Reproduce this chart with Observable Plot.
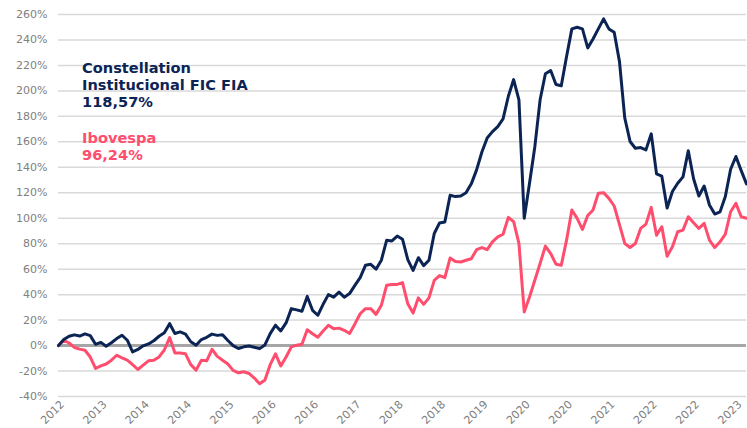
<!DOCTYPE html>
<html>
<head>
<meta charset="utf-8">
<script src="https://cdn.jsdelivr.net/npm/d3@7"></script>
<script src="https://cdn.jsdelivr.net/npm/@observablehq/plot@0.6"></script>
<style>
  html, body { margin: 0; padding: 0; background: #ffffff; }
</style>
</head>
<body>
<div id="chart"></div>
<script>
// Cumulative return (%), monthly points
const constellation = [
  0, 4.7, 7.3, 8.4, 7.5, 9.2, 7.8, 1, 2.5, -0.5,
  2.2, 5.5, 8.1, 4.2, -5, -3, -0.2, 1.3, 3.8, 7.3,
  10, 17.2, 9.5, 10.8, 9, 3, 0.3, 4.7, 6.5, 9,
  8, 8.5, 4, 0, -2.3, -1, -0.3, -1.3, -2.4, 0.5,
  9.4, 16, 11.5, 17.8, 29, 28, 27, 38.6, 27.7, 23.8,
  32.4, 40, 38, 42, 38, 40.8, 47.3, 53.3, 63, 63.8,
  60, 67, 82.7, 82.2, 86, 83.5, 67.5, 59, 69, 62.8,
  67, 88, 96.3, 97, 118, 117, 117.5, 120, 127, 138,
  152, 163, 168, 172, 178, 195.8, 208.9, 193, 100, 127.5,
  156, 193, 213.5, 216, 205, 204, 227, 248.7, 250, 248.7,
  233.8, 240.8, 248.7, 256.6, 248.7, 246, 223, 178.7, 160.3, 155,
  155.5, 153.7, 166.3, 134.8, 133, 108, 121, 127.5, 132.5, 153,
  131, 117.5, 125.3, 110.4, 103.3, 105, 117, 138.5, 148.5, 137.4,
  127
];
const ibovespa = [
  0, 4.2, 2, -1.5, -2.8, -3.7, -9, -18, -16, -14.5,
  -11.5, -7.6, -9.7, -11.5, -15, -18.8, -15.4, -12, -11.5, -8.9,
  -3.5, 6.3, -5.8, -5.8, -6.5, -15, -19.3, -11.5, -12, -2.9,
  -8.5, -11.5, -14.5, -19.5, -21.4, -20.6, -21.9, -25.5, -30, -27,
  -15, -6.5, -16, -9, -1, 0.3, 1, 12.4, 9.3, 6.6,
  11.4, 15.9, 13.2, 13.7, 12, 9.5, 17, 25, 29, 29,
  24.5, 31.6, 47.3, 48, 48, 49.4, 32.8, 25.5, 37.5, 32.3,
  37.5, 51.2, 55, 53.3, 68.8, 66, 65.6, 67, 68.2, 75.3,
  77, 75.3, 81.4, 85.3, 87.4, 100.7, 97.3, 80.2, 26.4, 38.2,
  51.3, 64.5, 78.1, 72.3, 63.9, 63.1, 82.8, 106.5, 99.9, 91.2,
  102.2, 106.5, 119.6, 120.1, 115.6, 109.6, 95, 80.2, 77, 80.2,
  92, 95.4, 108.5, 86.7, 93.3, 70.2, 77.6, 89.4, 90.7, 101.2,
  96.5, 92, 96, 82.8, 77, 81.5, 87.5, 105.1, 111.7, 101.2,
  100
];
const xTickLabels = ["2012","2013","2014","2014","2015","2016","2016","2017","2018","2018","2019","2020","2020","2021","2022","2022","2023"];
const xTickStep = 8;
const yTicks = [-40, -20, 0, 20, 40, 60, 80, 100, 120, 140, 160, 180, 200, 220, 240, 260];
const legendLines = [
  {text: "Constellation", series: "c"},
  {text: "Institucional FIC FIA", series: "c"},
  {text: "118,57%", series: "c"},
  {text: "Ibovespa", series: "i"},
  {text: "96,24%", series: "i"}
];

const NAVY = "#0b2454";
const PINK = "#ff4d6e";

const rowsC = constellation.map((v, i) => ({i, v}));
const rowsI = ibovespa.map((v, i) => ({i, v}));
const xTicks = xTickLabels.map((_, k) => k * xTickStep);

const chart = Plot.plot({
  width: 747,
  height: 428,
  marginLeft: 58,
  marginRight: 1,
  marginTop: 14,
  marginBottom: 32,
  style: {fontFamily: "DejaVu Sans", fontSize: "11px", color: "#808080", background: "#ffffff"},
  x: {domain: [0, constellation.length - 1]},
  y: {domain: [-40, 260]},
  marks: [
    Plot.ruleY(yTicks, {stroke: "#d9d9d9", strokeWidth: 1.5}),
    Plot.ruleY([0], {stroke: "#a6a6a6", strokeWidth: 3}),
    Plot.line(rowsI, {x: "i", y: "v", stroke: PINK, strokeWidth: 3, strokeLinejoin: "round"}),
    Plot.line(rowsC, {x: "i", y: "v", stroke: NAVY, strokeWidth: 3, strokeLinejoin: "round"}),
    Plot.axisY({ticks: yTicks, tickFormat: d => d + "%", tickSize: 0, tickPadding: 11, label: null, fill: "#808080"}),
    Plot.axisX({ticks: xTicks, tickFormat: d => xTickLabels[Math.round(d / xTickStep)], tickRotate: -45, tickSize: 0, tickPadding: 6, dx: 4, label: null, fill: "#808080"})
  ]
});

const svg = d3.select(chart);
const baselines = [72.7, 89.6, 106.6, 142.6, 159.8];
legendLines.forEach((d, k) => {
  svg.append("text")
    .attr("x", 82)
    .attr("y", baselines[k])
    .attr("text-anchor", "start")
    .attr("font-family", "DejaVu Sans")
    .attr("font-weight", "bold")
    .attr("font-size", "14.6px")
    .attr("fill", d.series === "c" ? NAVY : PINK)
    .text(d.text);
});

document.getElementById("chart").appendChild(chart);
</script>
</body>
</html>
